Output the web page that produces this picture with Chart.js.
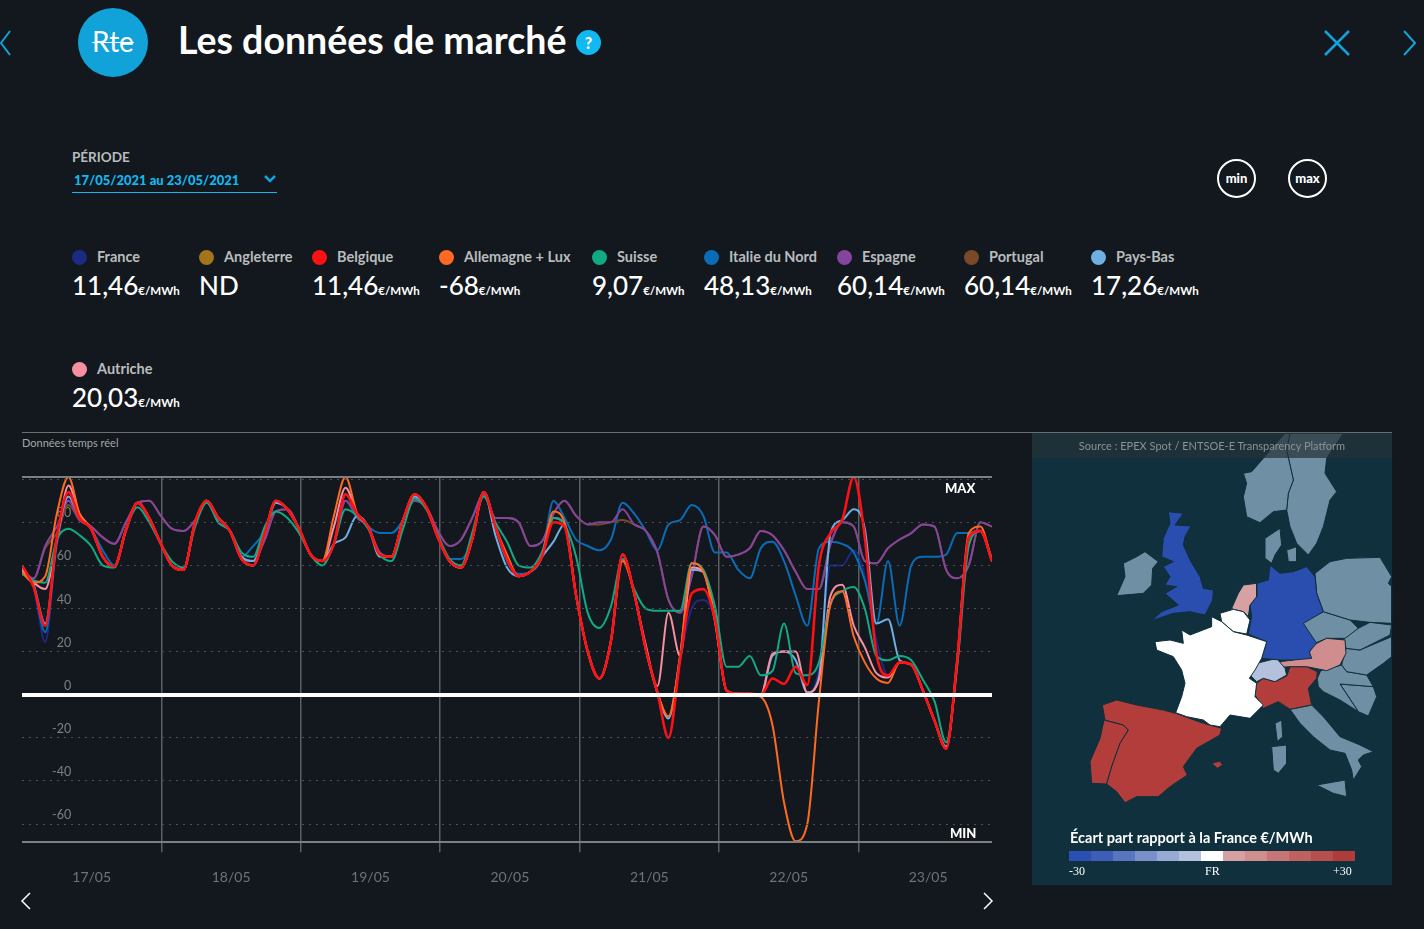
<!DOCTYPE html>
<html lang="fr">
<head>
<meta charset="utf-8">
<title>Les données de marché</title>
<script src="https://cdn.jsdelivr.net/npm/chart.js@4"></script>
<style>
  html, body { margin: 0; padding: 0; background: #12181d; }
  body { width: 1424px; height: 929px; position: relative; overflow: hidden; font-family: Lato, sans-serif; color: #fff; }
  .abs { position: absolute; white-space: nowrap; }
  #title { left: 178px; top: 16px; font-size: 37.5px; font-weight: 700; line-height: 48px; }
  #logo { left: 78px; top: 8px; width: 70px; height: 69px; border-radius: 50%; background: #10a2d8; text-align: center; font-size: 28px; line-height: 66px; text-decoration: line-through; text-decoration-thickness: 1px; }
  #help { left: 576px; top: 30px; width: 25px; height: 25px; border-radius: 50%; background: #12b8f2; text-align: center; font-size: 16px; font-weight: 900; line-height: 25px; color: #fff; }
  #periodLabel { left: 72px; top: 149px; font-size: 13.5px; font-weight: 700; color: #b9bcbe; }
  #period { left: 72px; top: 171px; width: 205px; height: 21px; border-bottom: 1px solid #12b8f2; color: #12b8f2; font-size: 13px; font-weight: 900; line-height: 19px; text-indent: 2px; }
  .round { top: 159px; width: 35px; height: 35px; border: 2px solid #fff; border-radius: 50%; text-align: center; font-size: 13px; font-weight: 900; line-height: 34px; }
  .dot { width: 15px; height: 15px; border-radius: 50%; }
  .name { font-size: 14.5px; font-weight: 700; color: #b9bcbe; }
  .value { font-size: 26px; font-weight: 500; line-height: 30px; }
  .value small { font-size: 11.5px; font-weight: 700; margin-left: 0; }
  #rule { left: 22px; top: 432px; width: 1370px; height: 1px; background: #6b6f72; }
  #realtime { left: 22px; top: 436px; font-size: 11px; color: #a4a7a9; }
  #marketChart { position: absolute; left: 0; top: 460px; }
  #mapPanel { left: 1032px; top: 433px; width: 360px; height: 452px; background: #0f303c; }
  #mapChart { position: absolute; left: 1030px; top: 430px; }
  #source { left: 1032px; top: 433px; width: 360px; height: 25px; background: rgba(38,50,56,.72); color: #8a9296; font-size: 11px; line-height: 26px; text-align: center; }
  .edge { font-size: 13px; font-weight: 900; color: #fff; }
  #mapTitle { left: 1070px; top: 829px; font-size: 14.5px; font-weight: 700; }
  #scale { left: 1069px; top: 851px; display: flex; }
  #scale div { width: 22px; height: 10px; }
  .scaleLabel { top: 864px; font-family: "Liberation Serif", serif; font-size: 12px; }
</style>
</head>
<body>
<svg class="abs" style="left:0;top:0" width="1424" height="90" fill="none" stroke="#12a2dc" stroke-width="2">
  <path d="M10 31 L1 43 L10 55"/>
  <path d="M1404 31 L1415 43 L1404 55"/>
  <path d="M1325 31 L1349 55 M1349 31 L1325 55" stroke-width="2.5"/>
</svg>
<div class="abs" id="logo">Rte</div>
<div class="abs" id="title">Les données de marché</div>
<div class="abs" id="help">?</div>
<div class="abs" id="periodLabel">PÉRIODE</div>
<div class="abs" id="period">17/05/2021 au 23/05/2021</div>
<svg class="abs" style="left:262px;top:174px" width="16" height="12" fill="none" stroke="#12a2dc" stroke-width="2.5"><path d="M3 2 L8 7 L13 2"/></svg>
<div class="abs round" style="left:1217px">min</div>
<div class="abs round" style="left:1288px">max</div>
<div id="legend"></div>
<div class="abs" id="rule"></div>
<div class="abs" id="realtime">Données temps réel</div>
<canvas id="marketChart" width="1030" height="443"></canvas>
<div class="abs edge" style="left:945px;top:480px">MAX</div>
<div class="abs edge" style="left:950px;top:825px">MIN</div>
<svg class="abs" style="left:15px;top:885px" width="985" height="30" fill="none" stroke="#fff" stroke-width="1.5">
  <path d="M15 8 L7 16 L15 24"/>
  <path d="M969 8 L977 16 L969 24"/>
</svg>
<div class="abs" id="mapPanel"></div>
<canvas id="mapChart" width="370" height="460"></canvas>
<div class="abs" id="source">Source : EPEX Spot / ENTSOE-E Transparency Platform</div>
<div class="abs" id="mapTitle">Écart part rapport à la France €/MWh</div>
<div class="abs" id="scale"></div>
<div class="abs scaleLabel" style="left:1069px">-30</div>
<div class="abs scaleLabel" style="left:1205px">FR</div>
<div class="abs scaleLabel" style="left:1333px">+30</div>

<script>
// heures depuis le 17/05 00:00, aux endroits
const hours = [0,2,4,6,8,9.9,11.9,13.9,15.9,17.9,19.9,21.9,23.9,25.8,27.8,29.8,31.8,33.8,35.8,37.8,39.8,41.8,43.7,45.7,47.7,49.7,51.7,53.7,55.7,57.7,59.6,61.6,63.6,65.6,67.6,69.6,71.6,73.6,75.6,77.5,79.5,81.5,83.5,85.5,87.5,89.5,91.5,93.4,95.4,97.4,99.4,101.4,103.4,105.4,107.4,109.4,111.3,113.3,115.3,117.3,119.3,121.3,123.3,125.3,127.2,129.2,131.2,133.2,135.2,137.2,139.2,141.2,143.2,145.1,147.1,149.1,151.1,153.1,155.1,157.1,159.1,161,163,165,167];

const france = [60,50,24.5,72,92,82,77,64,59,76,
  89,82,70,60,58,80,90,82,76,63,
  60,75,90,86,77,65,62,70,
  93,84,78,65,64,81,93,87,73,62,
  59,72,94,78,63,55,57,64,80,78,
  46,20,7.5,25,65,47,21,1,-20,16,
  40,44,35,2,0.5,0.5,0,0,0,0,
  0,12,60,60,67,55,25,9,15,14,
  2,-12,-25,16,73,76,62];
const belgique = [60,50,32,73,94,82,77,64,59.5,76.5,
  89,82,70,60,58,80,90,82,76,63,
  60,75,90,86,77,65,62,70,
  93,84,78,65,64,81,93,87,73,62,
  59,72,94,78,63,55,57,64,80,78,
  46,20,7.5,25,65,47,21,1,-20,16,
  47,49,35,2,0.5,0.5,0,7.5,5,13,
  4.5,60,75,81,101,73,19,9,15,14,
  2,-12,-25,16,73,76,62];
const allemagne = [57,52,55,84,101,84,77,64,59.5,76.5,
  89,82,70,60,58,80,90,82,76,63,
  60,75,90,86,77,65,62,83,
  101,84,78,65,64,81,93,87,73,62,
  59,72,94,78,65,55,57,64,85,80,
  46,20,7.5,25,62,47,21,1,-10,18,
  61,57,36,2,0.5,0,-1,-14,-50,-68,
  -60,-3,42,48,27,15,7.5,5.5,15,14,
  2,-12,-25,16,75,78,62];
const suisse = [56,53,52,72,77,74,69,60,59,77,
  87,80,70,62,59,78,89,80,76,66,
  64,78,85,82,75,65,60,70,
  86,83,77,65,62,77,91,86,74,63,
  60,75,92,80,71,60,59,66,82,79,
  64,38,31,41,63,49,40,39,39,39,
  61,58,41,13,13,18,9,11,33,10,
  9,15,42,48,50,40,18,16,18,16,
  7,-3,-22,13,69,76,63];
const italieNord = [60,50,29,70,90,82,77,67,60,76,
  89,82,70,60,58,80,90,82,76,64,
  69,76,89,86,77,65,62,70,
  93,84,78,75,75,81,92,87,73,63,
  63,72,94,78,62,56,57,64,90,82,
  72,69,67,72,89,84,76,67,79,81,
  88,83,66,66,58,54,68,71,62,46,
  32,68,71,70,66,53,33,62,32,60,
  64,64,65,75,75,76,63];
const espagne = [57,54,69,78,90,81,78,73,70,80,
  89,90,83,77,76,81,90,80,76,64,
  62,72,85,86,77,65,62,70,
  90,82,78,66,64,81,90,87,76,69,
  72,82,93,82,82,80,69,71,84,90,
  83,79,80,80,86,79,76,66,44,38,
  55,78,74,64,65,68,76,74,67,57,
  49,49,70,80,78,62,61,68,72,75,
  79,78,58,54,60,80,78];
const portugal = [57,54,68,75,88,81,78,73,70,80,
  89,90,83,77,76,81,90,80,76,64,
  62,72,85,86,77,65,62,70,
  90,84,78,66,64,81,90,87,76,69,
  72,82,93,82,82,80,69,71,84,90,
  83,79,79,80,81,79,76,66,44,38,
  55,78,74,64,65,68,76,74,67,57,
  49,49,70,80,78,62,61,68,72,75,
  79,78,58,54,60,80,78];
const paysBas = [59,51,33,72,92,82,77,64,59.5,76.5,
  89,82,70,60,58,80,90,82,76,64,
  62,75,89,86,77,65,62,70,
  73,83,78,64,64,81,92,87,73,62,
  59,72,94,74,59,55,57,64,71,79,
  46,20,7.5,25,65,47,21,1,-11,18,
  58,57,35,2,0.5,0.5,0,18,20,16,
  1,8,75,81,86,77,33,35,16,14,
  2,-12,-24,14,73,76,62];
const autriche = [58,52,49,72,97,84,77,64,59.5,76.5,
  89,82,70,60,58,80,90,82,76,63,
  60,75,90,86,77,65,62,78,
  96,84,78,65,64,81,93,87,73,62,
  59,72,94,78,63,55,57,64,82,79,
  46,20,7.5,25,65,47,23,4,38,18,
  59,57,34,2,0.5,0,0,19,20,20,
  1,7,46,51,32,22,10,8,15,14,
  2,-12,-25,16,73,76,62];

const dayLabels = ['17/05','18/05','19/05','20/05','21/05','22/05','23/05'];
const yLabels = [-60,-40,-20,0,20,40,60,80];
const yMin = -68.4;
const yMax = 101;

const legendNames = ['France','Angleterre','Belgique','Allemagne + Lux','Suisse','Italie du Nord','Espagne','Portugal','Pays-Bas','Autriche'];
const legendValues = ['11,46','ND','11,46','-68','9,07','48,13','60,14','60,14','17,26','20,03'];
const legendColors = ['#1b2a82','#a37419','#ff1014','#ff6a22','#12a985','#0a6cb6','#85459e','#7a4a28','#6fb0e2','#f78ea2'];
const legendLeft = [72,199,312,439,592,704,837,964,1091,72];

const scaleColors = ['#2b4fb3','#3e5db8','#5a75c0','#7a90cb','#97a9d5','#b3c1dd','#ffffff','#d5a0a2','#cf8d8d','#c67676','#bf6160','#b54e4c','#b03c3a'];

// contours des pays, repère de la carte
const grey = '#6f90a4', blue = '#2a4eb0', red = '#b23d3b', sea = '#0f303c';
const uk = [[415,245],[460,250],[435,285],[483,288],[465,320],[460,345],[480,390],[510,440],[520,475],[550,480],[548,510],[525,555],[480,545],[430,550],[365,572],[395,545],[445,525],[405,490],[440,470],[405,465],[420,440],[400,410],[430,395],[395,380],[400,325],[420,280]];
const irlande = [[320,380],[345,365],[385,395],[368,415],[365,465],[340,490],[260,497],[285,440],[280,400]];
const franceMap = [[545,560],[575,575],[610,605],[650,615],[710,635],[695,685],[675,720],[658,745],[680,760],[675,800],[700,825],[660,865],[600,855],[570,890],[540,885],[520,870],[470,860],[437,848],[455,800],[465,760],[455,720],[430,680],[380,660],[375,635],[420,630],[460,640],[455,600],[480,615],[545,590]];
const belgiqueMap = [[570,550],[610,538],[640,545],[660,570],[650,612],[610,605],[575,575]];
const paysBasMap = [[605,535],[625,490],[640,465],[680,460],[680,500],[660,525],[655,560],[640,545],[610,538]];
const allemagneMap = [[720,405],[750,430],[790,425],[830,410],[855,440],[860,490],[880,545],[820,580],[860,640],[838,665],[845,685],[790,690],[750,690],[695,685],[710,635],[655,612],[665,560],[660,525],[680,500],[680,460],[715,450]];
const suisseMap = [[660,735],[680,700],[740,685],[765,715],[770,735],[735,755],[700,745],[680,755]];
const autricheMap = [[750,695],[790,690],[838,668],[850,645],[890,625],[945,630],[948,670],[930,705],[890,722],[830,710],[780,710],[752,712]];
const italieNordMap = [[680,760],[700,745],[735,755],[770,738],[780,710],[830,710],[862,725],[860,745],[835,775],[845,825],[780,838],[745,815],[700,835],[675,795]];
const italieSud = [[780,838],[845,825],[880,860],[930,920],[990,945],[1030,965],[1000,975],[985,990],[995,1010],[970,1050],[965,1020],[945,970],[900,960],[850,920],[810,880]];
const sicile = [[860,1065],[945,1050],[950,1100],[910,1090]];
const sardaigne = [[725,950],[770,945],[770,1000],[745,1030],[730,1020]];
const corse = [[735,880],[755,870],[758,920],[742,935]];
const espagneMap = [[217,825],[260,810],[320,825],[400,840],[437,850],[520,880],[575,895],[570,915],[500,955],[460,1010],[472,1035],[420,1070],[385,1100],[320,1100],[285,1118],[260,1085],[230,1062],[245,1010],[270,940],[295,900],[280,885],[225,870]];
const portugalMap = [[222,870],[280,885],[295,900],[270,940],[245,1010],[230,1062],[185,1060],[180,995],[210,925]];
const baleares = [[545,1000],[570,993],[578,1005],[562,1015]];
const norvege = [[640,130],[665,125],[700,85],[730,50],[765,10],[780,10],[770,60],[790,150],[775,190],[770,240],[730,245],[690,278],[650,260],[640,200],[650,160]];
const suede = [[780,10],[940,10],[890,85],[885,130],[920,185],[900,210],[880,290],[860,340],[835,375],[800,340],[780,290],[770,240],[775,190],[790,150],[770,60]];
const lac = [[795,240],[825,222],[825,240],[800,262]];
const danemark = [[705,325],[750,295],[755,345],[735,375],[725,400],[705,385]];
const danemarkIles = [[770,360],[800,350],[800,395],[775,395]];
const pologne = [[855,430],[900,395],[950,385],[1050,382],[1085,440],[1075,460],[1085,470],[1085,580],[1020,577],[960,570],[880,545],[860,490]];
const tchequie = [[815,580],[880,545],[960,570],[985,595],[945,625],[890,625],[855,640]];
const slovaquie = [[940,620],[985,595],[1020,577],[1085,585],[1080,615],[990,660],[948,655]];
const hongrie = [[948,655],[990,660],[1085,620],[1085,680],[1060,700],[1010,735],[950,725],[935,705]];
const croatie = [[862,745],[872,722],[935,705],[950,725],[1010,735],[1030,770],[930,762],[985,845],[930,810],[880,785],[865,770]];
const bosnie = [[930,762],[1030,770],[1040,800],[1015,858],[985,845]];

const mapShapes = [
  [uk, blue], [irlande, grey], [franceMap, '#fff'], [belgiqueMap, '#fff'], [paysBasMap, '#d7a1a3'],
  [allemagneMap, blue], [suisseMap, '#b3c1dd'], [autricheMap, '#d08d8e'], [italieNordMap, red],
  [italieSud, grey], [sicile, grey], [sardaigne, grey], [corse, grey], [espagneMap, red],
  [portugalMap, red], [baleares, red], [norvege, grey], [suede, grey], [lac, sea],
  [danemark, grey], [danemarkIles, grey], [pologne, grey], [tchequie, grey], [slovaquie, grey],
  [hongrie, grey], [croatie, grey], [bosnie, grey]
];

// légende html
const legend = document.getElementById('legend');
legendNames.forEach((name, i) => {
  const top = i < 9 ? 0 : 112;
  legend.insertAdjacentHTML('beforeend',
    `<div class="abs dot" style="left:${legendLeft[i]}px;top:${250 + top}px;background:${legendColors[i]}"></div>` +
    `<div class="abs name" style="left:${legendLeft[i] + 25}px;top:${248 + top}px">${name}</div>` +
    `<div class="abs value" style="left:${legendLeft[i]}px;top:${270 + top}px">${legendValues[i]}${legendValues[i] === 'ND' ? '' : '<small>€/MWh</small>'}</div>`);
});
const scale = document.getElementById('scale');
scaleColors.forEach(c => scale.insertAdjacentHTML('beforeend', `<div style="background:${c}"></div>`));

const line = (label, values, color, width) => ({
  label,
  data: values.map((y, i) => ({ x: hours[i], y })),
  borderColor: color,
  borderWidth: width,
  pointRadius: 0,
  cubicInterpolationMode: 'monotone',
  fill: false
});

new Chart(document.getElementById('marketChart'), {
  type: 'line',
  data: {
    // chart.js dessine le premier dataset au-dessus des autres
    datasets: [
      line('Belgique', belgique, '#ff1014', 2.6),
      line('Allemagne + Lux', allemagne, '#ff6a22', 2),
      line('Suisse', suisse, '#12a985', 2),
      line('Autriche', autriche, '#f78ea2', 2),
      line('Pays-Bas', paysBas, '#6fb0e2', 2),
      line('Espagne', espagne, '#85459e', 2),
      line('Portugal', portugal, '#7a4a28', 2),
      line('Italie du Nord', italieNord, '#0a6cb6', 2),
      line('France', france, '#1b2a82', 2)
    ]
  },
  options: {
    responsive: false,
    animation: false,
    parsing: false,
    normalized: true,
    layout: { autoPadding: false, padding: { left: 22, right: 38, top: 17, bottom: 0 } },
    plugins: { legend: { display: false }, tooltip: { enabled: false } },
    scales: {
      x: {
        type: 'linear',
        min: 0,
        max: 167,
        afterBuildTicks: axis => {
          axis.ticks = [12,24,36,48,60,72,84,96,108,120,132,144,156].map(value => ({ value }));
        },
        border: { display: false },
        grid: {
          tickLength: 10,
          lineWidth: 1.5,
          color: ctx => (ctx.tick.value % 24 === 0 ? '#5b5f61' : 'transparent'),
          tickColor: ctx => (ctx.tick.value % 24 === 0 ? '#5b5f61' : 'transparent')
        },
        ticks: {
          autoSkip: false,
          maxRotation: 0,
          padding: 17,
          color: '#6f7376',
          font: { family: 'Lato', size: 14 },
          callback: v => (v % 24 === 12 ? dayLabels[(v - 12) / 24] : '')
        }
      },
      y: {
        type: 'linear',
        min: yMin,
        max: yMax,
        afterBuildTicks: axis => {
          axis.ticks = [yMin, ...yLabels, 100, yMax].map(value => ({ value }));
        },
        afterFit: axis => {
          // axe posé dans le graphique : pas de place à réserver
          axis.width = 0;
          axis.paddingTop = 0;
          axis.paddingBottom = 0;
        },
        border: {
          display: false,
          dash: ctx => ([0, yMin, yMax].includes(ctx.tick.value) ? [] : [2, 5])
        },
        grid: {
          z: 1,
          drawTicks: false,
          color: ctx => {
            const v = ctx.tick.value;
            if (v === 0) return '#ffffff';
            return v === yMin || v === yMax ? '#7c7f81' : '#4c5053';
          },
          lineWidth: ctx => {
            const v = ctx.tick.value;
            if (v === 0) return 4;
            return v === yMin || v === yMax ? 2 : 1;
          }
        },
        ticks: {
          autoSkip: false,
          mirror: true,
          crossAlign: 'far',
          padding: 30,
          color: '#7d8083',
          font: { family: 'Lato', size: 12.5, lineHeight: 1.44 },
          // ligne vide : le libellé passe au-dessus du trait
          callback: v => (yLabels.includes(v) ? [String(v), ''] : '')
        }
      }
    }
  }
});

new Chart(document.getElementById('mapChart'), {
  type: 'scatter',
  data: {
    datasets: mapShapes.map(([shape, color]) => ({
      data: shape.concat([shape[0]]).map(([x, y]) => ({ x, y })),
      showLine: true,
      fill: 'shape',
      backgroundColor: color,
      borderColor: sea,
      borderWidth: 1,
      pointRadius: 0,
      tension: 0
    }))
  },
  options: {
    responsive: false,
    animation: false,
    layout: { autoPadding: false, padding: 0 },
    plugins: { legend: { display: false }, tooltip: { enabled: false } },
    scales: {
      x: { display: false, min: 0, max: 1110 },
      y: { display: false, min: 0, max: 1380, reverse: true }
    }
  }
});
</script>
</body>
</html>
